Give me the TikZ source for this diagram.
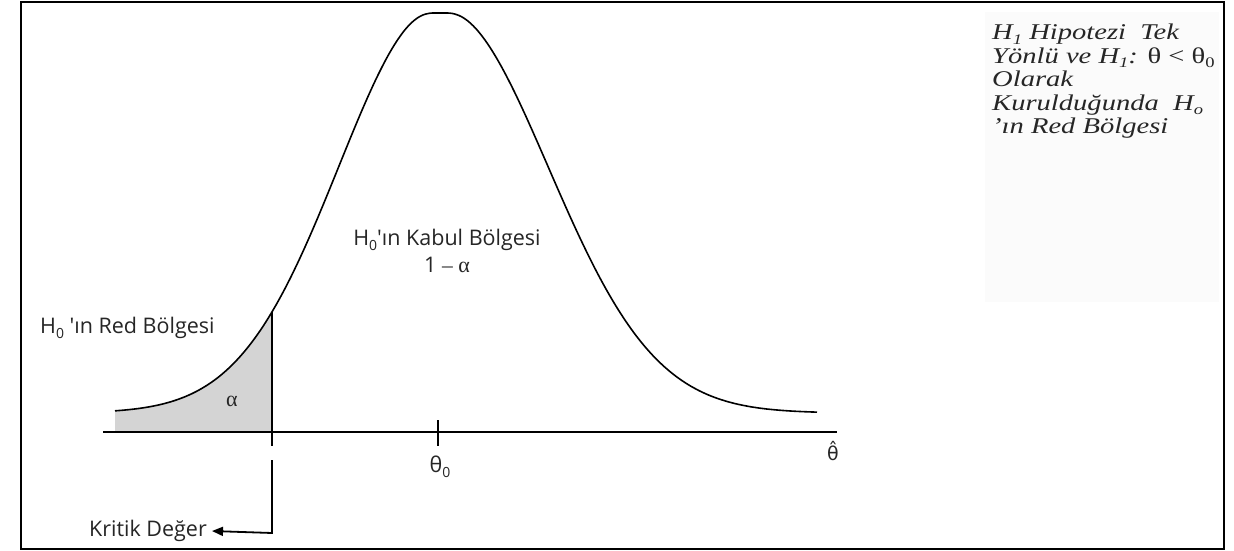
\documentclass[tikz,border=0pt]{standalone}
\usepackage{fontspec}
\setmainfont{Liberation Serif}
\newfontfamily\gill{Open Sans}
\newfontfamily\dejavu{DejaVu Sans}
\newfontfamily\sidefont{Liberation Serif}[FakeStretch=1.27]
\usetikzlibrary{arrows.meta}
\newcommand{\mysub}[1]{\raisebox{-0.45ex}{\scalebox{0.65}{#1}}}
\tikzset{
  declare function={
    bu(\x)=(\x-440)/100;
    bs(\x)=(\x<440)?1.42:1.52;
    bell(\x)=413-400*exp(-(bu(\x)*bu(\x))/(bs(\x)*bs(\x))*(bu(\x)*bu(\x))/(bu(\x)*bu(\x)+0.05));
  },
  curveline/.style={line width=1.6pt, black},
  axisline/.style={line width=1.6pt, black},
  gilllabel/.style={font=\gill\fontsize{21.5}{27}\selectfont, inner sep=0pt, text=black!85},
  greeklabel/.style={font=\fontsize{22}{24}\selectfont, inner sep=0pt, text=black!85},
  sidetext/.style={font=\sidefont\fontsize{22.5}{23.5}\selectfont\itshape, inner sep=0pt, align=left, text=black!85},
}
\begin{document}
\begin{tikzpicture}[x=1pt,y=-1pt]
\useasboundingbox (0,0) rectangle (1234,551);
\fill[white] (0,0) rectangle (1234,551);
% faint panel on the right
\fill[black!1.5] (985,12) rectangle (1219,302);
% frame
\draw[line width=2.6pt] (21,2) rectangle (1224,549);

% shaded alpha area
\fill[black!17] plot[domain=115:272, samples=60, smooth] (\x,{bell(\x)}) -- (272,432) -- (115,432) -- cycle;

% axis
\coordinate (axL) at (103,432);
\coordinate (axR) at (837,432);
\draw[axisline] (axL) -- (axR);

% bell curve
\draw[curveline] plot[domain=115:817, samples=240, smooth] (\x,{bell(\x)});

% tick at theta_0
\coordinate (tickT) at (438,420);
\coordinate (tickB) at (438,446);
\draw[axisline] (tickT) -- (tickB);

% critical value line
\coordinate (cTop) at (272,{bell(272)});
\coordinate (cMidA) at (272,446);
\coordinate (cMidB) at (272,460);
\coordinate (cCorner) at (272,533);
\draw[line width=1.8pt] (cTop) -- (cMidA);

% labels
\node[gilllabel, anchor=east] (kritik) at (207,531) {Kritik De\u{g}er};
\draw[line width=1.8pt, -{Triangle[length=11pt,width=9pt]}] (cMidB) -- (cCorner) -- ([xshift=5pt]kritik.east);

\node[gilllabel, anchor=west] (red) at (40,328) {H\mysub{0} 'ın Red Bölgesi};
\node[gilllabel, align=center] (kabul) at (447,251) {H\mysub{0}'ın Kabul Bölgesi\\1 {\rmfamily –} {\rmfamily\fontsize{22}{24}\selectfont α}};
\node[greeklabel] (alpha) at (232,401) {α};
\node[gilllabel] (theta0) at (440,467) {θ\mysub{0}};
\node[gilllabel, font=\dejavu\fontsize{19}{24}\selectfont] (thetahat) at (833,451) {θ̂};

\node[sidetext, anchor=north west] (side) at (992,24) {H\mysub{1} Hipotezi\ \ Tek\\Yönlü ve H\mysub{1}: {\upshape θ < θ\mysub{0}}\\Olarak\\Kurulduğunda\ \ H\mysub{o}\\’ın Red Bölgesi};
\end{tikzpicture}
\end{document}
